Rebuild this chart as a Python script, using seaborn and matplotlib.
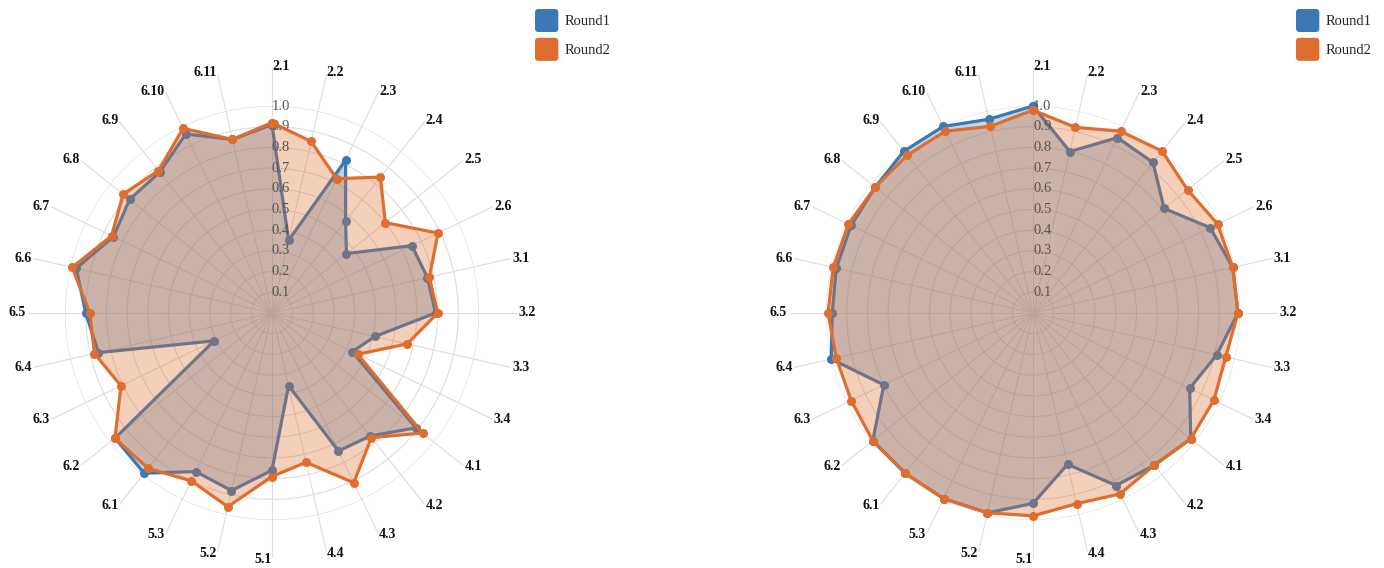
import numpy as np
import pandas as pd
import matplotlib
matplotlib.use("Agg")
import matplotlib.pyplot as plt
import seaborn as sns
from matplotlib.patches import Patch, FancyBboxPatch
from matplotlib.legend_handler import HandlerPatch

categories = ['2.1', '2.2', '2.3', '2.4', '2.5', '2.6', '3.1', '3.2', '3.3', '3.4',
              '4.1', '4.2', '4.3', '4.4', '5.1', '5.2', '5.3', '6.1', '6.2', '6.3',
              '6.4', '6.5', '6.6', '6.7', '6.8', '6.9', '6.10', '6.11']

left_round1 = [0.91, 0.36, 0.82, 0.57, 0.46, 0.75, 0.77, 0.79, 0.51, 0.43,
               0.89, 0.76, 0.74, 0.36, 0.76, 0.88, 0.85, 0.99, 0.97, 0.31,
               0.86, 0.90, 0.97, 0.85, 0.88, 0.87, 0.96, 0.86]
left_round2 = [0.92, 0.85, 0.72, 0.84, 0.70, 0.89, 0.78, 0.80, 0.67, 0.46,
               0.93, 0.77, 0.91, 0.74, 0.79, 0.96, 0.90, 0.96, 0.97, 0.81,
               0.88, 0.88, 0.99, 0.86, 0.92, 0.88, 0.99, 0.86]

right_round1 = [1.00, 0.80, 0.94, 0.93, 0.81, 0.95, 0.99, 0.99, 0.91, 0.84,
                0.975, 0.94, 0.925, 0.75, 0.92, 0.99, 0.995, 0.99, 0.99, 0.80,
                1.00, 0.97, 0.975, 0.975, 0.975, 1.00, 1.00, 0.96]
right_round2 = [0.98, 0.92, 0.975, 1.00, 0.955, 0.99, 0.99, 0.99, 0.955, 0.97,
                0.975, 0.94, 0.97, 0.945, 0.98, 0.99, 0.995, 0.99, 0.99, 0.975,
                0.975, 0.99, 0.99, 0.99, 0.975, 0.975, 0.975, 0.925]

series_names = ['Round1', 'Round2']
tick_values = [0.1, 0.2, 0.3, 0.4, 0.5, 0.6, 0.7, 0.8, 0.9, 1.0]
tick_labels = ['0.1', '0.2', '0.3', '0.4', '0.5', '0.6', '0.7', '0.8', '0.9', '1.0']

BLUE = '#3b78b5'
ORANGE = '#df6e2e'
GRID = '#dcdcdc'

sns.set_theme(style='white')
plt.rcParams['font.family'] = ['Liberation Serif', 'DejaVu Serif']

W, H = 1384, 568
fig = plt.figure(figsize=(W / 100, H / 100), dpi=100)

R_PX = 207
centers = [(272, 313), (1033, 313)]
legend_x = [535, 1296]
datasets = [(left_round1, left_round2), (right_round1, right_round2)]

n = len(categories)
theta = np.linspace(0, 2 * np.pi, n, endpoint=False)


class RoundBoxHandler(HandlerPatch):
    def create_artists(self, legend, orig_handle, xdescent, ydescent, width,
                       height, fontsize, trans):
        p = FancyBboxPatch((-xdescent, -ydescent), width, height,
                           boxstyle='round,pad=0,rounding_size=2.5',
                           facecolor=orig_handle.get_facecolor(),
                           edgecolor='none', transform=trans)
        return [p]


for (cx, cy), lx, (r1, r2) in zip(centers, legend_x, datasets):
    ax = fig.add_axes([(cx - R_PX) / W, (H - cy - R_PX) / H, 2 * R_PX / W, 2 * R_PX / H],
                      projection='polar')
    ax.set_theta_zero_location('N')
    ax.set_theta_direction(-1)
    ax.set_ylim(0, 1)
    ax.set_facecolor('none')
    ax.spines['polar'].set_visible(False)
    ax.set_xticks([])
    ax.set_yticks(tick_values)
    ax.set_yticklabels([])
    ax.yaxis.grid(True, color=GRID, linewidth=0.8)
    ax.xaxis.grid(False)
    ax.set_axisbelow(True)

    # spokes
    for t in theta:
        ax.plot([t, t], [0, 1.18], color=GRID, linewidth=0.8, zorder=0.5, clip_on=False)

    # category labels
    for t, lab in zip(theta, categories):
        deg = np.degrees(t)
        ha = 'left' if deg < 179 else 'right'
        ax.text(t, 1.19, lab, ha=ha, va='center', fontsize=10, fontweight='bold',
                color='#111111', clip_on=False)

    # radial tick labels
    for v, lab in zip(tick_values, tick_labels):
        ax.text(0, v, lab, ha='left', va='center', fontsize=10.5, color='#555555',
                zorder=4.5)

    z = 2
    for vals, color, falpha in zip((r1, r2), (BLUE, ORANGE), (0.30, 0.33)):
        th = np.append(theta, theta[0] + 2 * np.pi)
        vv = np.append(vals, vals[0])
        df = pd.DataFrame({'theta': th, 'value': vv})
        ax.fill(th, vv, color=color, alpha=falpha, linewidth=0, zorder=z)
        sns.lineplot(data=df, x='theta', y='value', sort=False, estimator=None,
                     ax=ax, color=color, linewidth=2.3, marker='o', markersize=6.5,
                     markeredgecolor=color, markeredgewidth=0, legend=False,
                     zorder=z + 1, clip_on=False)
        z += 2
    ax.set_xlabel('')
    ax.set_ylabel('')
    ax.set_ylim(0, 1)

    handles = [Patch(facecolor=BLUE), Patch(facecolor=ORANGE)]
    fig.legend(handles, series_names, loc='upper left',
               bbox_to_anchor=(lx / W, 1 - 9 / H), frameon=False,
               fontsize=10.5, handlelength=1.6, handleheight=2.05,
               handletextpad=0.45, labelspacing=0.4, borderpad=0, borderaxespad=0,
               handler_map={Patch: RoundBoxHandler()})

fig.savefig('out.png', dpi=100, facecolor='white')
